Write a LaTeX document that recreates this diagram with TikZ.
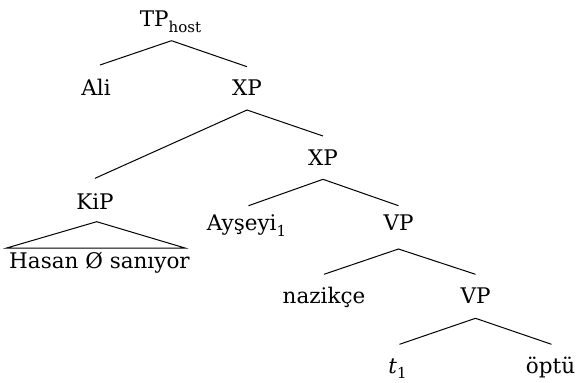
\documentclass[tikz,border=0pt]{standalone}
\usepackage{fontspec}
\setmainfont{DejaVu Serif}
\newcommand{\mysub}[1]{\raisebox{-5.5pt}{\fontsize{15}{15}\selectfont #1}}
\begin{document}
\begin{tikzpicture}[x=1pt,y=-1pt,
  lbl/.style={inner sep=0pt,anchor=base,font=\fontsize{21.5}{26}\selectfont},
  edge/.style={line width=1pt}]
\useasboundingbox (0,0) rectangle (577,382);
\node[lbl] (tp) at (170.5,26.7) {TP\mysub{host}};
\node[lbl] (ali) at (96,96) {Ali};
\node[lbl] (xpa) at (247,96) {XP};
\node[lbl] (kip) at (95,209) {KiP};
\node[lbl] (xpb) at (323,165) {XP};
\node[lbl] (hasan) at (99.5,268) {Hasan Ø sanıyor};
\node[lbl] (ays) at (246.5,230.7) {Ayşeyi\mysub{1}};
\node[lbl] (vpa) at (398.5,230.7) {VP};
\node[lbl] (naz) at (324,303.3) {nazikçe};
\node[lbl] (vpb) at (475.5,303.3) {VP};
\node[lbl] (t) at (397.5,373.3) {\textit{t}\mysub{1}};
\node[lbl] (opt) at (550.5,373.3) {öptü};
\draw[edge] ([xshift=4pt,yshift=31pt]ali.base) -- ([xshift=1pt,yshift=-14pt]tp.base) -- ([yshift=29.3pt]xpa.base);
\draw[edge] ([yshift=30.7pt]kip.base) -- ([yshift=-14pt]xpa.base) -- ([yshift=29pt]xpb.base);
\draw[edge] ([xshift=2pt,yshift=25pt]ays.base) -- ([yshift=-14.3pt]xpb.base) -- ([yshift=25pt]vpa.base);
\draw[edge] ([yshift=29pt]naz.base) -- ([yshift=-18.3pt]vpa.base) -- ([yshift=29pt]vpb.base);
\draw[edge] ([xshift=2pt,yshift=29pt]t.base) -- ([yshift=-15pt]vpb.base) -- ([xshift=1pt,yshift=29pt]opt.base);
\draw[edge] ([xshift=1.7pt,yshift=-12.7pt]kip.base) -- ([xshift=-92.8pt,yshift=20pt]hasan.base) -- ([xshift=85.5pt,yshift=20pt]hasan.base) -- cycle;
\end{tikzpicture}
\end{document}
